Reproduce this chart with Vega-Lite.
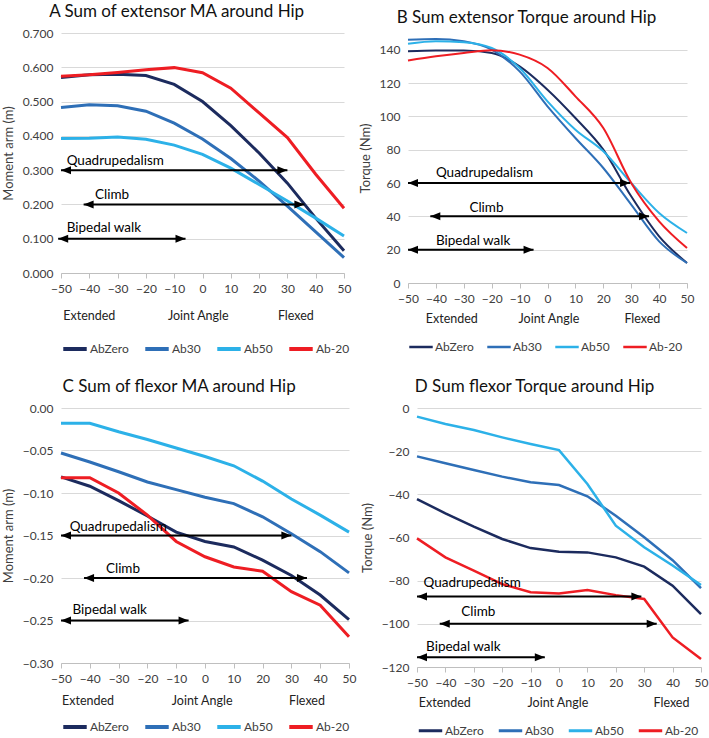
{
  "$schema": "https://vega.github.io/schema/vega-lite/v6.json",
  "padding": {"left": 2, "top": 3, "right": 1, "bottom": 0},
  "background": "white",
  "config": {
    "font": "Lato",
    "view": {"stroke": null},
    "axis": {"labelFontSize": 12, "titleFontSize": 13, "labelColor": "#404040", "titleColor": "#404040", "titleFontWeight": "normal", "gridColor": "#d9d9d9", "domainColor": "#bfbfbf", "tickColor": "#bfbfbf", "labelFont": "Lato", "titleFont": "Lato", "labelOverlap": false, "labelFlush": false},
    "axisX": {"grid": false, "tickSize": 5, "labelPadding": 5},
    "axisY": {"domain": false, "ticks": false, "grid": true, "labelPadding": 8, "titlePadding": 7},
    "legend": {"orient": "bottom", "direction": "horizontal", "symbolType": "stroke", "symbolStrokeWidth": 4, "symbolSize": 550, "labelFontSize": 12, "labelColor": "#404040", "columnPadding": 8, "labelOffset": 1, "offset": 41, "title": null},
    "title": {"fontSize": 17, "fontWeight": "normal", "anchor": "middle", "frame": "bounds", "color": "#111", "offset": 6, "font": "Lato"},
    "text": {"font": "Lato"}
  },
  "datasets": {
    "lineA": [
      {"series": "AbZero", "angle": -50, "value": 0.570}, {"series": "AbZero", "angle": -40, "value": 0.578}, {"series": "AbZero", "angle": -30, "value": 0.580}, {"series": "AbZero", "angle": -20, "value": 0.576}, {"series": "AbZero", "angle": -10, "value": 0.550}, {"series": "AbZero", "angle": 0, "value": 0.500}, {"series": "AbZero", "angle": 10, "value": 0.430}, {"series": "AbZero", "angle": 20, "value": 0.350}, {"series": "AbZero", "angle": 30, "value": 0.262}, {"series": "AbZero", "angle": 40, "value": 0.160}, {"series": "AbZero", "angle": 50, "value": 0.065},
      {"series": "Ab30", "angle": -50, "value": 0.483}, {"series": "Ab30", "angle": -40, "value": 0.491}, {"series": "Ab30", "angle": -30, "value": 0.488}, {"series": "Ab30", "angle": -20, "value": 0.472}, {"series": "Ab30", "angle": -10, "value": 0.437}, {"series": "Ab30", "angle": 0, "value": 0.391}, {"series": "Ab30", "angle": 10, "value": 0.334}, {"series": "Ab30", "angle": 20, "value": 0.268}, {"series": "Ab30", "angle": 30, "value": 0.195}, {"series": "Ab30", "angle": 40, "value": 0.120}, {"series": "Ab30", "angle": 50, "value": 0.045},
      {"series": "Ab50", "angle": -50, "value": 0.392}, {"series": "Ab50", "angle": -40, "value": 0.393}, {"series": "Ab50", "angle": -30, "value": 0.397}, {"series": "Ab50", "angle": -20, "value": 0.390}, {"series": "Ab50", "angle": -10, "value": 0.373}, {"series": "Ab50", "angle": 0, "value": 0.346}, {"series": "Ab50", "angle": 10, "value": 0.306}, {"series": "Ab50", "angle": 20, "value": 0.258}, {"series": "Ab50", "angle": 30, "value": 0.210}, {"series": "Ab50", "angle": 40, "value": 0.160}, {"series": "Ab50", "angle": 50, "value": 0.108},
      {"series": "Ab-20", "angle": -50, "value": 0.574}, {"series": "Ab-20", "angle": -40, "value": 0.578}, {"series": "Ab-20", "angle": -30, "value": 0.585}, {"series": "Ab-20", "angle": -20, "value": 0.593}, {"series": "Ab-20", "angle": -10, "value": 0.599}, {"series": "Ab-20", "angle": 0, "value": 0.584}, {"series": "Ab-20", "angle": 10, "value": 0.539}, {"series": "Ab-20", "angle": 20, "value": 0.467}, {"series": "Ab-20", "angle": 30, "value": 0.395}, {"series": "Ab-20", "angle": 40, "value": 0.288}, {"series": "Ab-20", "angle": 50, "value": 0.189}
    ],
    "lineB": [
      {"series": "AbZero", "angle": -50, "value": 139}, {"series": "AbZero", "angle": -40, "value": 139.5}, {"series": "AbZero", "angle": -30, "value": 139.5}, {"series": "AbZero", "angle": -20, "value": 138}, {"series": "AbZero", "angle": -10, "value": 130}, {"series": "AbZero", "angle": 0, "value": 116}, {"series": "AbZero", "angle": 10, "value": 99}, {"series": "AbZero", "angle": 20, "value": 80}, {"series": "AbZero", "angle": 30, "value": 52}, {"series": "AbZero", "angle": 40, "value": 28}, {"series": "AbZero", "angle": 50, "value": 12},
      {"series": "Ab30", "angle": -50, "value": 146}, {"series": "Ab30", "angle": -40, "value": 146.4}, {"series": "Ab30", "angle": -30, "value": 145}, {"series": "Ab30", "angle": -20, "value": 140}, {"series": "Ab30", "angle": -10, "value": 127}, {"series": "Ab30", "angle": 0, "value": 106}, {"series": "Ab30", "angle": 10, "value": 87}, {"series": "Ab30", "angle": 20, "value": 69}, {"series": "Ab30", "angle": 30, "value": 47}, {"series": "Ab30", "angle": 40, "value": 25}, {"series": "Ab30", "angle": 50, "value": 12},
      {"series": "Ab50", "angle": -50, "value": 143.5}, {"series": "Ab50", "angle": -40, "value": 145}, {"series": "Ab50", "angle": -30, "value": 144.5}, {"series": "Ab50", "angle": -20, "value": 141}, {"series": "Ab50", "angle": -10, "value": 129}, {"series": "Ab50", "angle": 0, "value": 109}, {"series": "Ab50", "angle": 10, "value": 92}, {"series": "Ab50", "angle": 20, "value": 79}, {"series": "Ab50", "angle": 30, "value": 60}, {"series": "Ab50", "angle": 40, "value": 42}, {"series": "Ab50", "angle": 50, "value": 30},
      {"series": "Ab-20", "angle": -50, "value": 133.5}, {"series": "Ab-20", "angle": -40, "value": 136}, {"series": "Ab-20", "angle": -30, "value": 138}, {"series": "Ab-20", "angle": -20, "value": 139.6}, {"series": "Ab-20", "angle": -10, "value": 137}, {"series": "Ab-20", "angle": 0, "value": 129}, {"series": "Ab-20", "angle": 10, "value": 112}, {"series": "Ab-20", "angle": 20, "value": 93}, {"series": "Ab-20", "angle": 30, "value": 60}, {"series": "Ab-20", "angle": 40, "value": 37}, {"series": "Ab-20", "angle": 50, "value": 21}
    ],
    "lineC": [
      {"series": "AbZero", "angle": -50, "value": -0.081}, {"series": "AbZero", "angle": -40, "value": -0.092}, {"series": "AbZero", "angle": -30, "value": -0.109}, {"series": "AbZero", "angle": -20, "value": -0.127}, {"series": "AbZero", "angle": -10, "value": -0.146}, {"series": "AbZero", "angle": 0, "value": -0.157}, {"series": "AbZero", "angle": 10, "value": -0.1635}, {"series": "AbZero", "angle": 20, "value": -0.179}, {"series": "AbZero", "angle": 30, "value": -0.197}, {"series": "AbZero", "angle": 40, "value": -0.220}, {"series": "AbZero", "angle": 50, "value": -0.249},
      {"series": "Ab30", "angle": -50, "value": -0.053}, {"series": "Ab30", "angle": -40, "value": -0.0635}, {"series": "Ab30", "angle": -30, "value": -0.075}, {"series": "Ab30", "angle": -20, "value": -0.087}, {"series": "Ab30", "angle": -10, "value": -0.096}, {"series": "Ab30", "angle": 0, "value": -0.105}, {"series": "Ab30", "angle": 10, "value": -0.1125}, {"series": "Ab30", "angle": 20, "value": -0.128}, {"series": "Ab30", "angle": 30, "value": -0.148}, {"series": "Ab30", "angle": 40, "value": -0.169}, {"series": "Ab30", "angle": 50, "value": -0.194},
      {"series": "Ab50", "angle": -50, "value": -0.018}, {"series": "Ab50", "angle": -40, "value": -0.018}, {"series": "Ab50", "angle": -30, "value": -0.028}, {"series": "Ab50", "angle": -20, "value": -0.037}, {"series": "Ab50", "angle": -10, "value": -0.047}, {"series": "Ab50", "angle": 0, "value": -0.057}, {"series": "Ab50", "angle": 10, "value": -0.068}, {"series": "Ab50", "angle": 20, "value": -0.086}, {"series": "Ab50", "angle": 30, "value": -0.107}, {"series": "Ab50", "angle": 40, "value": -0.126}, {"series": "Ab50", "angle": 50, "value": -0.146},
      {"series": "Ab-20", "angle": -50, "value": -0.082}, {"series": "Ab-20", "angle": -40, "value": -0.082}, {"series": "Ab-20", "angle": -30, "value": -0.100}, {"series": "Ab-20", "angle": -20, "value": -0.126}, {"series": "Ab-20", "angle": -10, "value": -0.157}, {"series": "Ab-20", "angle": 0, "value": -0.175}, {"series": "Ab-20", "angle": 10, "value": -0.187}, {"series": "Ab-20", "angle": 20, "value": -0.192}, {"series": "Ab-20", "angle": 30, "value": -0.216}, {"series": "Ab-20", "angle": 40, "value": -0.232}, {"series": "Ab-20", "angle": 50, "value": -0.269}
    ],
    "lineD": [
      {"series": "AbZero", "angle": -50, "value": -42.2}, {"series": "AbZero", "angle": -40, "value": -48.8}, {"series": "AbZero", "angle": -30, "value": -55}, {"series": "AbZero", "angle": -20, "value": -60.7}, {"series": "AbZero", "angle": -10, "value": -64.9}, {"series": "AbZero", "angle": 0, "value": -66.6}, {"series": "AbZero", "angle": 10, "value": -66.9}, {"series": "AbZero", "angle": 20, "value": -69.2}, {"series": "AbZero", "angle": 30, "value": -73.5}, {"series": "AbZero", "angle": 40, "value": -82.3}, {"series": "AbZero", "angle": 50, "value": -95.5},
      {"series": "Ab30", "angle": -50, "value": -22.4}, {"series": "Ab30", "angle": -40, "value": -25.6}, {"series": "Ab30", "angle": -30, "value": -28.7}, {"series": "Ab30", "angle": -20, "value": -31.8}, {"series": "Ab30", "angle": -10, "value": -34.4}, {"series": "Ab30", "angle": 0, "value": -35.7}, {"series": "Ab30", "angle": 10, "value": -40.9}, {"series": "Ab30", "angle": 20, "value": -49.9}, {"series": "Ab30", "angle": 30, "value": -59.9}, {"series": "Ab30", "angle": 40, "value": -70.5}, {"series": "Ab30", "angle": 50, "value": -83.5},
      {"series": "Ab50", "angle": -50, "value": -4.0}, {"series": "Ab50", "angle": -40, "value": -7.4}, {"series": "Ab50", "angle": -30, "value": -10.2}, {"series": "Ab50", "angle": -20, "value": -13.6}, {"series": "Ab50", "angle": -10, "value": -16.7}, {"series": "Ab50", "angle": 0, "value": -19.5}, {"series": "Ab50", "angle": 10, "value": -35.2}, {"series": "Ab50", "angle": 20, "value": -54.5}, {"series": "Ab50", "angle": 30, "value": -64.5}, {"series": "Ab50", "angle": 40, "value": -73}, {"series": "Ab50", "angle": 50, "value": -82},
      {"series": "Ab-20", "angle": -50, "value": -60.4}, {"series": "Ab-20", "angle": -40, "value": -69.2}, {"series": "Ab-20", "angle": -30, "value": -75.4}, {"series": "Ab-20", "angle": -20, "value": -81.6}, {"series": "Ab-20", "angle": -10, "value": -85.4}, {"series": "Ab-20", "angle": 0, "value": -85.9}, {"series": "Ab-20", "angle": 10, "value": -84.3}, {"series": "Ab-20", "angle": 20, "value": -86.7}, {"series": "Ab-20", "angle": 30, "value": -88.5}, {"series": "Ab-20", "angle": 40, "value": -106.3}, {"series": "Ab-20", "angle": 50, "value": -116.3}
    ],
    "arrA": [
      {"label": "Quadrupedalism", "angle": -50, "angle2": 30, "value": 0.3},
      {"label": "Climb", "angle": -42, "angle2": 36, "value": 0.2},
      {"label": "Bipedal walk", "angle": -51, "angle2": -6, "value": 0.1}
    ],
    "headA": [
      {"dir": "L", "angle": -50, "value": 0.3}, {"dir": "R", "angle": 30, "value": 0.3},
      {"dir": "L", "angle": -42, "value": 0.2}, {"dir": "R", "angle": 36, "value": 0.2},
      {"dir": "L", "angle": -51, "value": 0.1}, {"dir": "R", "angle": -6, "value": 0.1}
    ],
    "lblA": [
      {"label": "Quadrupedalism", "angle": -48, "value": 0.327},
      {"label": "Climb", "angle": -38, "value": 0.228},
      {"label": "Bipedal walk", "angle": -48, "value": 0.131}
    ],
    "noteA": [
      {"label": "Extended", "angle": -40, "value": -0.125}, {"label": "Joint Angle", "angle": -1.5, "value": -0.125}, {"label": "Flexed", "angle": 33, "value": -0.125}
    ],
    "arrB": [
      {"label": "Quadrupedalism", "angle": -50, "angle2": 29.6, "value": 60},
      {"label": "Climb", "angle": -42, "angle2": 36.4, "value": 40},
      {"label": "Bipedal walk", "angle": -50, "angle2": -5, "value": 20}
    ],
    "headB": [
      {"dir": "L", "angle": -50, "value": 60}, {"dir": "R", "angle": 29.6, "value": 60},
      {"dir": "L", "angle": -42, "value": 40}, {"dir": "R", "angle": 36.4, "value": 40},
      {"dir": "L", "angle": -50, "value": 20}, {"dir": "R", "angle": -5, "value": 20}
    ],
    "lblB": [
      {"label": "Quadrupedalism", "angle": -40, "value": 66},
      {"label": "Climb", "angle": -28, "value": 45},
      {"label": "Bipedal walk", "angle": -40, "value": 25}
    ],
    "noteB": [
      {"label": "Extended", "angle": -34.3, "value": -21.8}, {"label": "Joint Angle", "angle": 0.5, "value": -21.8}, {"label": "Flexed", "angle": 34, "value": -21.8}
    ],
    "arrC": [
      {"label": "Quadrupedalism", "angle": -50, "angle2": 30, "value": -0.15},
      {"label": "Climb", "angle": -42, "angle2": 35.4, "value": -0.2},
      {"label": "Bipedal walk", "angle": -50, "angle2": -5.7, "value": -0.25}
    ],
    "headC": [
      {"dir": "L", "angle": -50, "value": -0.15}, {"dir": "R", "angle": 30, "value": -0.15},
      {"dir": "L", "angle": -42, "value": -0.2}, {"dir": "R", "angle": 35.4, "value": -0.2},
      {"dir": "L", "angle": -50, "value": -0.25}, {"dir": "R", "angle": -5.7, "value": -0.25}
    ],
    "lblC": [
      {"label": "Quadrupedalism", "angle": -47, "value": -0.14},
      {"label": "Climb", "angle": -34.4, "value": -0.189},
      {"label": "Bipedal walk", "angle": -46, "value": -0.238}
    ],
    "noteC": [
      {"label": "Extended", "angle": -40.6, "value": -0.345}, {"label": "Joint Angle", "angle": -1, "value": -0.345}, {"label": "Flexed", "angle": 35.4, "value": -0.345}
    ],
    "arrD": [
      {"label": "Quadrupedalism", "angle": -50, "angle2": 29, "value": -87.3},
      {"label": "Climb", "angle": -42, "angle2": 34.4, "value": -100},
      {"label": "Bipedal walk", "angle": -50, "angle2": -5, "value": -115.5}
    ],
    "headD": [
      {"dir": "L", "angle": -50, "value": -87.3}, {"dir": "R", "angle": 29, "value": -87.3},
      {"dir": "L", "angle": -42, "value": -100}, {"dir": "R", "angle": 34.4, "value": -100},
      {"dir": "L", "angle": -50, "value": -115.5}, {"dir": "R", "angle": -5, "value": -115.5}
    ],
    "lblD": [
      {"label": "Quadrupedalism", "angle": -47.7, "value": -81.2},
      {"label": "Climb", "angle": -34.4, "value": -94.7},
      {"label": "Bipedal walk", "angle": -46.8, "value": -110.9}
    ],
    "noteD": [
      {"label": "Extended", "angle": -40.2, "value": -136.8}, {"label": "Joint Angle", "angle": -0.4, "value": -136.8}, {"label": "Flexed", "angle": 39.6, "value": -136.8}
    ]
  },
  "resolve": {"scale": {"color": "independent"}, "legend": {"color": "independent"}},
  "spacing": 21,
  "vconcat": [
    {
      "spacing": 8,
      "resolve": {"scale": {"color": "independent"}, "legend": {"color": "independent"}},
      "hconcat": [
        {
          "width": 283, "height": 240,
          "title": "A  Sum of extensor MA around Hip",
          "encoding": {
            "x": {"field": "angle", "type": "quantitative", "title": null, "scale": {"domain": [-50, 50], "nice": false, "zero": false}, "axis": {"values": [-50, -40, -30, -20, -10, 0, 10, 20, 30, 40, 50]}},
            "y": {"field": "value", "type": "quantitative", "title": "Moment arm (m)", "scale": {"domain": [0, 0.7], "nice": false}, "axis": {"values": [0, 0.1, 0.2, 0.3, 0.4, 0.5, 0.6, 0.7], "format": ".3f"}}
          },
          "layer": [
            {"data": {"name": "lineA"}, "mark": {"type": "line", "strokeWidth": 3},
             "encoding": {"color": {"field": "series", "type": "nominal", "scale": {"domain": ["AbZero", "Ab30", "Ab50", "Ab-20"], "range": ["#1c2b5e", "#2e6fb7", "#2cb1e8", "#ee1d23"]}, "legend": {"title": null, "offset": 41}}}},
            {"data": {"name": "arrA"}, "mark": {"type": "rule", "strokeWidth": 2, "color": "black"}, "encoding": {"x2": {"field": "angle2"}}},
            {"data": {"name": "headA"}, "mark": {"type": "point", "filled": true, "color": "black", "opacity": 1, "size": 100, "strokeWidth": 0},
             "encoding": {"shape": {"field": "dir", "type": "nominal", "scale": {"domain": ["L", "R"], "range": ["M0,0L2,-0.8L2,0.8Z", "M0,0L-2,-0.8L-2,0.8Z"]}, "legend": null}}},
            {"data": {"name": "lblA"}, "mark": {"type": "text", "align": "left", "baseline": "middle", "fontSize": 13.5, "color": "black"}, "encoding": {"text": {"field": "label"}}},
            {"data": {"name": "noteA"}, "mark": {"type": "text", "align": "center", "baseline": "middle", "fontSize": 12.5, "color": "#222"}, "encoding": {"text": {"field": "label"}}}
          ]
        },
        {
          "width": 279, "height": 250,
          "title": "B  Sum extensor Torque around Hip",
          "encoding": {
            "x": {"field": "angle", "type": "quantitative", "title": null, "scale": {"domain": [-50, 50], "nice": false, "zero": false}, "axis": {"values": [-50, -40, -30, -20, -10, 0, 10, 20, 30, 40, 50]}},
            "y": {"field": "value", "type": "quantitative", "title": "Torque (Nm)", "scale": {"domain": [0, 150], "nice": false}, "axis": {"values": [0, 20, 40, 60, 80, 100, 120, 140]}}
          },
          "layer": [
            {"data": {"name": "lineB"}, "mark": {"type": "line", "strokeWidth": 2, "interpolate": "monotone"},
             "encoding": {"color": {"field": "series", "type": "nominal", "scale": {"domain": ["AbZero", "Ab30", "Ab50", "Ab-20"], "range": ["#1c2b5e", "#2e6fb7", "#2cb1e8", "#ee1d23"]}, "legend": {"title": null, "symbolStrokeWidth": 2.5, "offset": 30}}}},
            {"data": {"name": "arrB"}, "mark": {"type": "rule", "strokeWidth": 2, "color": "black"}, "encoding": {"x2": {"field": "angle2"}}},
            {"data": {"name": "headB"}, "mark": {"type": "point", "filled": true, "color": "black", "opacity": 1, "size": 100, "strokeWidth": 0},
             "encoding": {"shape": {"field": "dir", "type": "nominal", "scale": {"domain": ["L", "R"], "range": ["M0,0L2,-0.8L2,0.8Z", "M0,0L-2,-0.8L-2,0.8Z"]}, "legend": null}}},
            {"data": {"name": "lblB"}, "mark": {"type": "text", "align": "left", "baseline": "middle", "fontSize": 13.5, "color": "black"}, "encoding": {"text": {"field": "label"}}},
            {"data": {"name": "noteB"}, "mark": {"type": "text", "align": "center", "baseline": "middle", "fontSize": 12.5, "color": "#222"}, "encoding": {"text": {"field": "label"}}}
          ]
        }
      ]
    },
    {
      "spacing": 5,
      "resolve": {"scale": {"color": "independent"}, "legend": {"color": "independent"}},
      "hconcat": [
        {
          "width": 288, "height": 255,
          "title": "C  Sum of flexor MA around Hip",
          "encoding": {
            "x": {"field": "angle", "type": "quantitative", "title": null, "scale": {"domain": [-50, 50], "nice": false, "zero": false}, "axis": {"values": [-50, -40, -30, -20, -10, 0, 10, 20, 30, 40, 50]}},
            "y": {"field": "value", "type": "quantitative", "title": "Moment arm (m)", "scale": {"domain": [-0.3, 0], "nice": false}, "axis": {"values": [-0.3, -0.25, -0.2, -0.15, -0.1, -0.05, 0], "format": ".2f"}}
          },
          "layer": [
            {"data": {"name": "lineC"}, "mark": {"type": "line", "strokeWidth": 3},
             "encoding": {"color": {"field": "series", "type": "nominal", "scale": {"domain": ["AbZero", "Ab30", "Ab50", "Ab-20"], "range": ["#1c2b5e", "#2e6fb7", "#2cb1e8", "#ee1d23"]}, "legend": {"title": null, "offset": 29}}}},
            {"data": {"name": "arrC"}, "mark": {"type": "rule", "strokeWidth": 2, "color": "black"}, "encoding": {"x2": {"field": "angle2"}}},
            {"data": {"name": "headC"}, "mark": {"type": "point", "filled": true, "color": "black", "opacity": 1, "size": 100, "strokeWidth": 0},
             "encoding": {"shape": {"field": "dir", "type": "nominal", "scale": {"domain": ["L", "R"], "range": ["M0,0L2,-0.8L2,0.8Z", "M0,0L-2,-0.8L-2,0.8Z"]}, "legend": null}}},
            {"data": {"name": "lblC"}, "mark": {"type": "text", "align": "left", "baseline": "middle", "fontSize": 13.5, "color": "black"}, "encoding": {"text": {"field": "label"}}},
            {"data": {"name": "noteC"}, "mark": {"type": "text", "align": "center", "baseline": "middle", "fontSize": 12.5, "color": "#222"}, "encoding": {"text": {"field": "label"}}}
          ]
        },
        {
          "width": 284, "height": 259,
          "title": "D  Sum flexor Torque around Hip",
          "encoding": {
            "x": {"field": "angle", "type": "quantitative", "title": null, "scale": {"domain": [-50, 50], "nice": false, "zero": false}, "axis": {"values": [-50, -40, -30, -20, -10, 0, 10, 20, 30, 40, 50]}},
            "y": {"field": "value", "type": "quantitative", "title": "Torque (Nm)", "scale": {"domain": [-120, 0], "nice": false}, "axis": {"values": [-120, -100, -80, -60, -40, -20, 0]}}
          },
          "layer": [
            {"data": {"name": "lineD"}, "mark": {"type": "line", "strokeWidth": 2.5},
             "encoding": {"color": {"field": "series", "type": "nominal", "scale": {"domain": ["AbZero", "Ab30", "Ab50", "Ab-20"], "range": ["#1c2b5e", "#2e6fb7", "#2cb1e8", "#ee1d23"]}, "legend": {"title": null, "symbolStrokeWidth": 3, "offset": 29}}}},
            {"data": {"name": "arrD"}, "mark": {"type": "rule", "strokeWidth": 2, "color": "black"}, "encoding": {"x2": {"field": "angle2"}}},
            {"data": {"name": "headD"}, "mark": {"type": "point", "filled": true, "color": "black", "opacity": 1, "size": 100, "strokeWidth": 0},
             "encoding": {"shape": {"field": "dir", "type": "nominal", "scale": {"domain": ["L", "R"], "range": ["M0,0L2,-0.8L2,0.8Z", "M0,0L-2,-0.8L-2,0.8Z"]}, "legend": null}}},
            {"data": {"name": "lblD"}, "mark": {"type": "text", "align": "left", "baseline": "middle", "fontSize": 13.5, "color": "black"}, "encoding": {"text": {"field": "label"}}},
            {"data": {"name": "noteD"}, "mark": {"type": "text", "align": "center", "baseline": "middle", "fontSize": 12.5, "color": "#222"}, "encoding": {"text": {"field": "label"}}}
          ]
        }
      ]
    }
  ]
}
